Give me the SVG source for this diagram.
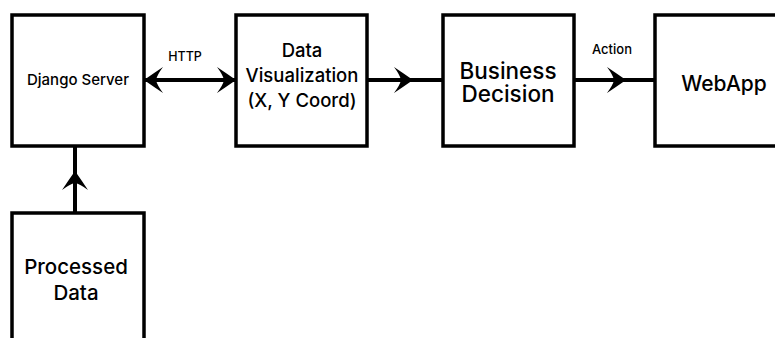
<svg xmlns="http://www.w3.org/2000/svg" width="775" height="338" viewBox="0 0 775 338">
<style>
.box{fill:#fff;stroke:#000;stroke-width:3.5}
.t{font-family:"Inter","Noto Sans",sans-serif;font-weight:500;fill:#000;text-anchor:middle}
.ln{stroke:#000;stroke-width:4;fill:none}
.ah{fill:#000}
</style>
<defs>
<path id="arr" d="M0,0 Q-10,-7 -19,-13 Q-13,-5 -12,0 Q-13,5 -19,13 Q-10,7 0,0 Z"/>
</defs>
<rect width="775" height="338" fill="#fff"/>
<g id="connectors">
<line class="ln" x1="145" y1="80" x2="236" y2="80"/>
<use href="#arr" class="ah" transform="translate(236,80)"/>
<use href="#arr" class="ah" transform="translate(144,80) rotate(180)"/>
<line class="ln" x1="367" y1="80" x2="443" y2="80"/>
<use href="#arr" class="ah" transform="translate(413,80)"/>
<line class="ln" x1="574" y1="80" x2="655" y2="80"/>
<use href="#arr" class="ah" transform="translate(626,80)"/>
<line class="ln" x1="75" y1="213" x2="75" y2="146"/>
<use href="#arr" class="ah" transform="translate(75,171) rotate(-90)"/>
<text class="t" x="185" y="61" font-size="12.5">HTTP</text>
<text class="t" x="612" y="54" font-size="13">Action</text>
</g>
<g id="django">
<rect class="box" x="12" y="15" width="132" height="131"/>
<text class="t" x="78" y="85" font-size="15">Django Server</text>
</g>
<g id="dataviz">
<rect class="box" x="236" y="15" width="131" height="131"/>
<text class="t" x="302" y="57" font-size="18.5">Data</text>
<text class="t" x="302" y="82" font-size="18.5">Visualization</text>
<text class="t" x="302" y="107" font-size="18.5">(X, Y Coord)</text>
</g>
<g id="business">
<rect class="box" x="443" y="15" width="131" height="131"/>
<text class="t" x="508" y="79" font-size="22.5">Business</text>
<text class="t" x="508" y="102" font-size="22.5">Decision</text>
</g>
<g id="webapp">
<rect class="box" x="655" y="15" width="140" height="131"/>
<text class="t" x="724" y="91" font-size="21">WebApp</text>
</g>
<g id="processed">
<rect class="box" x="12" y="213" width="132" height="140"/>
<text class="t" x="76" y="274" font-size="20.5">Processed</text>
<text class="t" x="76" y="300" font-size="20.5">Data</text>
</g>
</svg>
